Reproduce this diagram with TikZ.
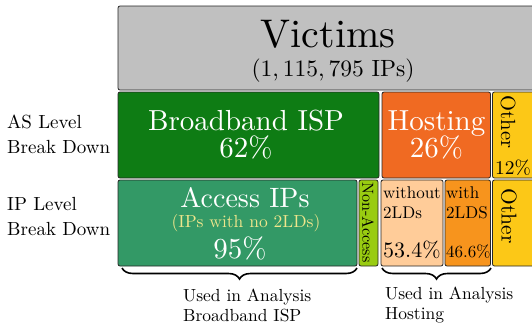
\documentclass[tikz,border=0pt]{standalone}
\usepackage{fontspec}
\setmainfont{lmroman10-regular}[Extension=.otf]
\usetikzlibrary{decorations.pathreplacing}

\definecolor{victimsgray}{RGB}{192,192,192}
\definecolor{ispgreen}{RGB}{14,124,20}
\definecolor{hostorange}{RGB}{240,106,34}
\definecolor{otheryellow}{RGB}{252,200,23}
\definecolor{accessgreen}{RGB}{51,153,102}
\definecolor{nonaccessgreen}{RGB}{153,204,17}
\definecolor{withoutpeach}{RGB}{255,204,153}
\definecolor{withorange}{RGB}{247,148,29}
\definecolor{noteyellow}{RGB}{240,230,140}

\tikzset{
  box/.style={draw=black!85, line width=0.8pt, rounded corners=2pt},
  lbl/.style={inner sep=0pt, anchor=base},
  sidelbl/.style={inner sep=0pt, anchor=north west, align=left, font=\fontsize{19}{25}\selectfont},
  bottomlbl/.style={inner sep=0pt, anchor=north west, align=left, font=\fontsize{17.5}{20}\selectfont},
  bigtxt/.style={font=\fontsize{29}{34}\selectfont},
  midtxt/.style={font=\fontsize{17}{20}\selectfont},
  brace/.style={decorate, decoration={brace, mirror, amplitude=11pt}, line width=1.6pt}
}

\begin{document}
\begin{tikzpicture}[x=1pt,y=1pt,yscale=-1,xscale=1]
\useasboundingbox (0,0) rectangle (532,325);

%Shape: Victims
\draw [box, fill=victimsgray] (118,6) rectangle (538,90);
%Shape: AS level
\draw [box, fill=ispgreen] (118,92) rectangle (379,178);
\draw [box, fill=hostorange] (382,92) rectangle (490.5,178);
\draw [box, fill=otheryellow] (492.5,92) rectangle (540,178);
%Shape: IP level
\draw [box, fill=accessgreen] (118,180) rectangle (357,266);
\draw [box, fill=nonaccessgreen] (359,180) rectangle (378,266);
\draw [box, fill=withoutpeach] (381,180) rectangle (443,266);
\draw [box, fill=withorange] (445,180) rectangle (490.5,266);
\draw [box, fill=otheryellow] (492.5,180) rectangle (540,266);

% Text Node
\node [lbl, font=\fontsize{40}{44}\selectfont] (victims) at (328,47) {Victims};
\node [lbl, font=\fontsize{23.5}{28}\selectfont] (victimscount) at (333,76) {(1,\,115,\,795 IPs)};
% Text Node
\node [lbl, bigtxt, text=white] (isp) at (246,130) {Broadband ISP};
\node [lbl, bigtxt, text=white] (isppct) at (246,157) {62\%};
\node [lbl, bigtxt, text=white] (hosting) at (436.5,130) {Hosting};
\node [lbl, bigtxt, text=white] (hostingpct) at (436.5,157) {26\%};
\node [inner sep=0pt, rotate=-90, font=\fontsize{20.5}{24}\selectfont] (otheras) at (508,122) {Other};
\node [inner sep=0pt, anchor=base west, font=\fontsize{19.5}{22}\selectfont] (otheraspct) at (495,174) {12\%};
% Text Node
\node [lbl, font=\fontsize{28}{32}\selectfont, text=white] (access) at (245,207) {Access IPs};
\node [lbl, font=\fontsize{17.5}{20}\selectfont, text=noteyellow] (accessnote) at (246,227) {(IPs with no 2LDs)};
\node [lbl, bigtxt, text=white] (accesspct) at (240,258) {95\%};
\node [inner sep=0pt, rotate=-90, font=\fontsize{16}{19}\selectfont] (nonaccess) at (368,222.5) {Non-Access};
\node [inner sep=0pt, anchor=base west, align=left, midtxt] (without) at (383,218) {without\\2LDs};
\node [inner sep=0pt, anchor=base west, font=\fontsize{22}{26}\selectfont] (withoutpct) at (383,257) {53.4\%};
\node [inner sep=0pt, anchor=base west, align=left, midtxt] (with) at (446,218) {with\\2LDS};
\node [inner sep=0pt, anchor=base west, midtxt] (withpct) at (446,257) {46.6\%};
\node [inner sep=0pt, rotate=-90, font=\fontsize{21.5}{26}\selectfont] (otherip) at (509,216) {Other};

% Text Node
\node [sidelbl] (aslevel) at (7,115) {AS Level\\Break Down};
\node [sidelbl] (iplevel) at (7,197) {IP Level\\Break Down};

%Braces
\draw [brace] (122,268) -- (357,268);
\draw [brace] (382,268) -- (491,268);
% Text Node
\node [bottomlbl] (usedisp) at (183,289) {Used in Analysis\\Broadband ISP};
\node [bottomlbl] (usedhosting) at (385,287) {Used in Analysis\\Hosting};
\end{tikzpicture}
\end{document}
